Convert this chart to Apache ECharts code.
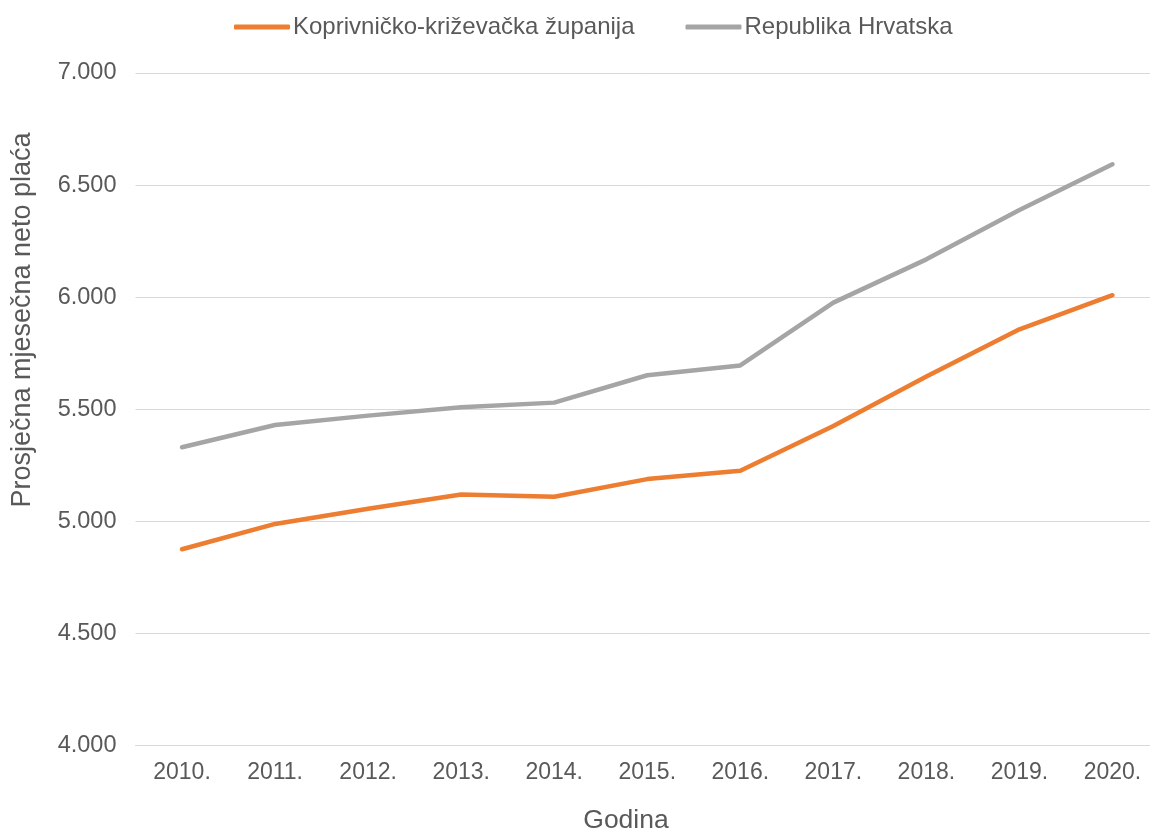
<!DOCTYPE html>
<html>
<head>
<meta charset="utf-8">
<script src="https://cdn.jsdelivr.net/npm/echarts@6/dist/echarts.min.js"></script>
<style>
html,body{margin:0;padding:0;background:#fff;}
#chart{width:1150px;height:832px;}
</style>
</head>
<body>
<div id="chart"></div>
<script>
var years = ['2010.', '2011.', '2012.', '2013.', '2014.', '2015.', '2016.', '2017.', '2018.', '2019.', '2020.'];
var koprivnicko = [4876, 4989, 5057, 5120, 5110, 5189, 5226, 5426, 5646, 5857, 6009];
var hrvatska = [5331, 5430, 5472, 5509, 5530, 5652, 5696, 5976, 6169, 6389, 6593];
var seriesNames = ['Koprivničko-križevačka županija', 'Republika Hrvatska'];
var yTitle = 'Prosječna mjesečna neto plaća';
var xTitle = 'Godina';

var FONT = '"Liberation Sans", Arial, sans-serif';
var TXT = '#595959';
var chart = echarts.init(document.getElementById('chart'), null, {renderer: 'canvas'});
chart.setOption({
  animation: false,
  backgroundColor: '#ffffff',
  textStyle: {fontFamily: FONT, color: TXT},
  legend: {
    left: 229, top: 10,
    itemWidth: 56, itemHeight: 5, itemGap: 51,
    icon: 'roundRect',
    textStyle: {fontFamily: FONT, fontSize: 24, color: TXT, padding: [0, 0, 0, -2]},
    data: seriesNames
  },
  grid: {
    left: 135.5, top: 73, width: 1023.5, height: 672.7,
    containLabel: false, outerBoundsMode: 'none'
  },
  xAxis: {
    type: 'category',
    data: years,
    boundaryGap: true,
    axisLine: {show: true, lineStyle: {color: '#d9d9d9', width: 1}},
    axisTick: {show: false},
    axisLabel: {interval: 0, margin: 15, fontSize: 23, color: TXT, fontFamily: FONT},
    splitLine: {show: false}
  },
  yAxis: {
    type: 'value',
    min: 4000, max: 7000, interval: 500,
    axisLine: {show: false},
    axisTick: {show: false},
    axisLabel: {
      margin: 19, fontSize: 23.5, color: TXT, fontFamily: FONT,
      formatter: function (v) { return (v / 1000).toFixed(3); }
    },
    splitLine: {lineStyle: {color: '#d9d9d9', width: 1}}
  },
  graphic: [
    {type: 'text', x: 23, y: 320, rotation: Math.PI / 2,
     style: {text: yTitle, fontSize: 27, fontFamily: FONT, fill: TXT, textAlign: 'center', textVerticalAlign: 'middle'}},
    {type: 'text', x: 626, y: 821,
     style: {text: xTitle, fontSize: 26.5, fontFamily: FONT, fill: TXT, textAlign: 'center', textVerticalAlign: 'middle'}}
  ],
  series: [
    {name: seriesNames[0], type: 'line', data: koprivnicko, symbol: 'none',
     color: '#ED7D31', lineStyle: {width: 4.5, color: '#ED7D31', cap: 'round', join: 'round'}, z: 3},
    {name: seriesNames[1], type: 'line', data: hrvatska, symbol: 'none',
     color: '#A5A5A5', lineStyle: {width: 4.5, color: '#A5A5A5', cap: 'round', join: 'round'}, z: 2}
  ]
});
</script>
</body>
</html>
